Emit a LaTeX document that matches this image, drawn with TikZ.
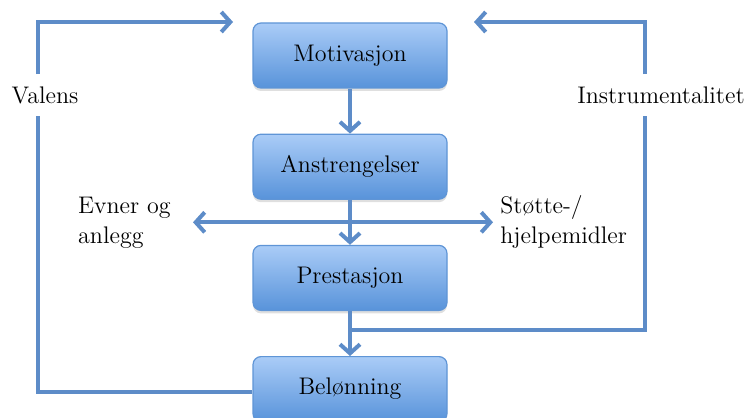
\documentclass[tikz,border=0pt]{standalone}
\usepackage{tikz}
\usetikzlibrary{arrows.meta,positioning,calc,shadows}
\definecolor{BoxTop}{HTML}{AACCF7}
\definecolor{BoxBottom}{HTML}{5893DA}
\definecolor{BoxLine}{HTML}{5F95D6}
\definecolor{FlowBlue}{HTML}{5D8CC8}

\begin{document}
\begin{tikzpicture}[
    x=0.5pt,y=-0.5pt,
    node distance=22.5pt,
    font=\fontsize{12}{15}\selectfont,
    stage/.style={draw=BoxLine,line width=0.6pt,rounded corners=4pt,minimum width=97pt,
      minimum height=32.5pt,align=center,top color=BoxTop,bottom color=BoxBottom,
      drop shadow={opacity=0.25,shadow xshift=0pt,shadow yshift=-1.5pt}},
    side/.style={inner xsep=2pt,inner ysep=6pt,align=left},
    arrow/.style={-{Straight Barb[length=4.5pt,width=10pt]},line width=2pt,draw=FlowBlue},
    wire/.style={line width=2pt,draw=FlowBlue}
  ]
    \useasboundingbox (0,0) rectangle (748,417);
    \node[stage] (motiv) at (350,55.5) {Motivasjon};
    \node[stage,below=of motiv] (effort) {Anstrengelser};
    \node[stage,below=of effort] (perf) {Prestasjon};
    \node[stage,below=of perf] (reward) {Belønning};
    \draw[arrow] (motiv) -- (effort);
    \draw[arrow] (effort) -- (perf);
    \draw[arrow] (perf) -- (reward);
    % side arrows
    \coordinate (split) at ($(effort.south)!0.5!(perf.north)$);
    \coordinate (lefttip) at (193,0 |- split);
    \coordinate (righttip) at (493,0 |- split);
    \node[side,left=9pt of lefttip] (ability) {Evner og\\anlegg};
    \node[side,right=1.5pt of righttip] (support) {Støtte-/\\hjelpemidler};
    \draw[arrow] (split) -- (lefttip);
    \draw[arrow] (split) -- (righttip);
    % feedback loops
    \node[side] (valens) at (45,95) {Valens};
    \node[side] (instr) at (661,95) {Instrumentalitet};
    \coordinate (vbot) at (38,392);
    \coordinate (vtop) at (38,22);
    \coordinate (vtip) at (233,22);
    \coordinate (rbot) at (645,330);
    \coordinate (rtop) at (645,22);
    \coordinate (rtip) at (474,22);
    \draw[wire] (reward.west |- vbot) -- (vbot) -- (vbot |- valens.south);
    \draw[arrow] (vtop |- valens.north) -- (vtop) -- (vtip);
    \draw[wire] (perf.south |- rbot) -- (rbot) -- (rbot |- instr.south);
    \draw[arrow] (rtop |- instr.north) -- (rtop) -- (rtip);
  \end{tikzpicture}
\end{document}
